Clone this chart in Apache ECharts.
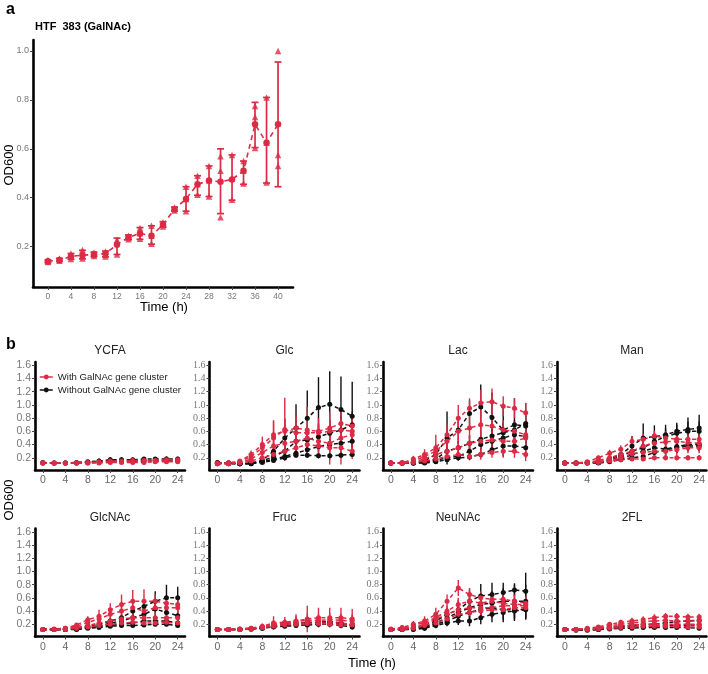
<!DOCTYPE html>
<html><head><meta charset="utf-8">
<script src="https://cdn.jsdelivr.net/npm/echarts@6/dist/echarts.min.js"></script>
<style>html,body{margin:0;padding:0;background:#fff}#c{width:708px;height:674px}</style>
</head><body><div id="c"></div>
<script>
// ---------- Panel a data ----------
const timeA = [0,2,4,6,8,10,12,14,16,18,20,22,24,26,28,30,32,34,36,38,40];
const meanA = [.140,.145,.160,.165,.168,.172,.208,.238,.254,.245,.290,.353,.395,.455,.470,.465,.475,.510,.700,.625,.700];
const hiA   = [.145,.152,.172,.185,.178,.182,.235,.248,.278,.285,.302,.362,.445,.490,.530,.600,.575,.550,.790,.810,.955];
const loA   = [.135,.140,.148,.150,.160,.158,.168,.228,.230,.210,.280,.345,.345,.410,.405,.335,.390,.455,.605,.460,.445];
const rep1A = [.145,.152,.172,.186,.176,.180,.228,.245,.276,.285,.300,.360,.445,.490,.530,.570,.575,.550,.775,.810,1.000];
const rep2A = [.140,.148,.160,.163,.168,.170,.220,.240,.255,.245,.290,.355,.395,.455,.470,.510,.480,.510,.730,.625,.575];
const rep3A = [.137,.142,.150,.152,.162,.160,.168,.230,.232,.212,.282,.348,.345,.412,.405,.320,.392,.458,.603,.462,.530];
const xTicksA = [0,4,8,12,16,20,24,28,32,36,40];
const yTicksA = [0.2,0.4,0.6,0.8,1.0];

// ---------- Panel b data ----------
const timeB = [0,2,4,6,8,10,12,14,16,18,20,22,24];
const xTicksB = [0,4,8,12,16,20,24];
const yTicksB = [0.2,0.4,0.6,0.8,1.0,1.2,1.4,1.6];
const panelNames = ['YCFA','Glc','Lac','Man','GlcNAc','Fruc','NeuNAc','2FL'];

const ycfaRed = [
 [.12,.12,.12,.12,.13,.14,.15,.15,.16,.16,.16,.17,.17],
 [.12,.12,.12,.12,.12,.13,.14,.14,.14,.15,.15,.15,.15],
 [.12,.12,.12,.12,.12,.12,.13,.13,.13,.13,.14,.14,.14]];
const ycfaRedSD = [
 [.01,.01,.01,.01,.01,.02,.03,.03,.04,.04,.04,.05,.05],
 [.01,.01,.01,.01,.01,.01,.02,.02,.03,.03,.03,.03,.04],
 [.01,.01,.01,.01,.01,.01,.02,.02,.02,.02,.02,.02,.03]];
const ycfaBlack = [
 [.13,.12,.12,.13,.14,.15,.17,.17,.17,.18,.18,.18,.18],
 [.12,.12,.12,.12,.13,.14,.15,.15,.15,.15,.16,.16,.16]];
const ycfaBlackSD = [
 [.01,.01,.01,.01,.02,.04,.04,.04,.03,.03,.03,.04,.03],
 [.01,.01,.01,.01,.01,.02,.02,.02,.02,.02,.02,.02,.02]];

const glcRed = [
 [.12,.12,.14,.22,.35,.50,.63,.58,.58,.58,.60,.62,.60],
 [.11,.12,.15,.25,.40,.55,.60,.65,.62,.60,.65,.72,.68],
 [.11,.11,.13,.18,.28,.38,.42,.45,.50,.45,.42,.50,.55],
 [.11,.11,.12,.15,.20,.25,.30,.35,.40,.38,.35,.35,.30]];
const glcRedSD = [
 [.01,.01,.03,.05,.10,.25,.48,.10,.12,.12,.15,.15,.15],
 [.01,.01,.03,.06,.12,.22,.20,.20,.35,.20,.25,.20,.18],
 [.01,.01,.02,.04,.08,.10,.12,.12,.15,.20,.25,.30,.15],
 [.01,.01,.02,.03,.05,.08,.10,.10,.12,.15,.25,.25,.12]];
const glcBlack = [
 [.13,.12,.11,.12,.16,.30,.50,.65,.80,.96,1.01,.93,.83],
 [.12,.12,.11,.12,.15,.22,.30,.45,.47,.52,.57,.62,.70],
 [.12,.12,.11,.11,.14,.18,.22,.27,.32,.37,.40,.42,.45],
 [.12,.11,.11,.11,.13,.16,.20,.24,.24,.23,.23,.24,.25]];
const glcBlackSD = [
 [.01,.01,.01,.02,.05,.12,.28,.36,.42,.46,.50,.50,.52],
 [.01,.01,.01,.02,.04,.08,.12,.15,.18,.20,.20,.20,.20],
 [.01,.01,.01,.01,.03,.04,.05,.06,.08,.08,.10,.10,.10],
 [.01,.01,.01,.01,.02,.03,.03,.04,.04,.04,.04,.04,.04]];

const lacRed = [
 [.12,.12,.18,.25,.35,.55,.80,.95,1.03,1.05,.98,.95,.88],
 [.12,.12,.15,.22,.30,.45,.60,.65,.70,.68,.62,.60,.55],
 [.12,.12,.14,.18,.25,.30,.35,.42,.45,.47,.45,.45,.50],
 [.12,.12,.13,.15,.18,.22,.25,.22,.25,.28,.30,.30,.25]];
const lacRedSD = [
 [.01,.01,.05,.08,.20,.15,.20,.15,.20,.20,.15,.15,.15],
 [.01,.01,.04,.06,.10,.12,.15,.15,.15,.15,.15,.15,.15],
 [.01,.01,.03,.05,.08,.10,.10,.12,.12,.12,.12,.12,.12],
 [.01,.01,.02,.03,.04,.05,.06,.06,.08,.08,.10,.10,.10]];
const lacBlack = [
 [.12,.12,.13,.15,.25,.50,.62,.87,.97,.81,.62,.70,.68],
 [.12,.12,.12,.14,.18,.30,.35,.42,.48,.53,.58,.62,.72],
 [.12,.12,.12,.13,.16,.20,.22,.30,.40,.45,.50,.55,.52],
 [.12,.12,.12,.12,.14,.17,.20,.21,.25,.32,.38,.38,.35]];
const lacBlackSD = [
 [.01,.01,.02,.03,.06,.40,.20,.20,.34,.38,.40,.40,.35],
 [.01,.01,.02,.03,.04,.08,.10,.12,.15,.15,.15,.15,.15],
 [.01,.01,.01,.02,.03,.05,.06,.08,.10,.12,.12,.14,.15],
 [.01,.01,.01,.01,.02,.03,.04,.04,.05,.06,.08,.10,.15]];

const manRed = [
 [.12,.12,.14,.20,.27,.33,.45,.48,.53,.50,.48,.48,.48],
 [.12,.12,.13,.16,.20,.25,.30,.38,.42,.44,.45,.43,.42],
 [.12,.12,.13,.14,.16,.20,.26,.28,.30,.30,.32,.35,.35],
 [.12,.12,.12,.13,.15,.17,.18,.18,.20,.20,.20,.20,.20]];
const manRedSD = [
 [.01,.01,.02,.03,.05,.06,.08,.08,.08,.10,.10,.10,.10],
 [.01,.01,.02,.03,.04,.05,.06,.08,.10,.10,.10,.10,.10],
 [.01,.01,.01,.02,.03,.04,.05,.06,.06,.08,.08,.08,.08],
 [.01,.01,.01,.01,.02,.02,.03,.03,.04,.04,.04,.04,.04]];
const manBlack = [
 [.12,.12,.13,.13,.18,.25,.38,.50,.52,.55,.60,.63,.65],
 [.12,.12,.13,.13,.16,.22,.30,.35,.45,.52,.57,.60,.60],
 [.12,.12,.12,.13,.15,.18,.25,.30,.35,.33,.37,.40,.40],
 [.12,.12,.12,.12,.14,.17,.20,.22,.28,.32,.35,.38,.38]];
const manBlackSD = [
 [.01,.01,.01,.02,.03,.05,.15,.22,.17,.15,.13,.18,.20],
 [.01,.01,.01,.02,.03,.04,.10,.12,.12,.12,.13,.15,.15],
 [.01,.01,.01,.01,.02,.03,.05,.08,.10,.10,.10,.10,.10],
 [.01,.01,.01,.01,.02,.03,.04,.05,.06,.06,.08,.08,.08]];

const glcnacRed = [
 [.12,.13,.14,.19,.27,.32,.42,.50,.55,.55,.55,.52,.50],
 [.12,.12,.14,.17,.23,.28,.35,.40,.45,.40,.45,.45,.45],
 [.12,.12,.13,.15,.18,.22,.25,.28,.30,.30,.30,.30,.30],
 [.12,.12,.12,.14,.16,.18,.20,.22,.23,.22,.22,.23,.22]];
const glcnacRedSD = [
 [.01,.01,.02,.03,.05,.10,.10,.15,.17,.18,.10,.10,.12],
 [.01,.01,.02,.03,.04,.08,.08,.10,.10,.10,.10,.10,.10],
 [.01,.01,.01,.02,.03,.04,.05,.06,.06,.06,.06,.06,.06],
 [.01,.01,.01,.01,.02,.03,.03,.04,.04,.04,.04,.04,.04]];
const glcnacBlack = [
 [.12,.12,.13,.15,.17,.20,.25,.30,.40,.47,.55,.60,.60],
 [.12,.12,.12,.14,.15,.17,.22,.25,.30,.35,.43,.38,.33],
 [.12,.12,.12,.13,.15,.17,.18,.20,.22,.25,.25,.25,.22],
 [.12,.12,.12,.12,.14,.15,.17,.18,.18,.19,.20,.20,.18]];
const glcnacBlackSD = [
 [.01,.01,.01,.02,.03,.04,.05,.06,.08,.08,.15,.20,.17],
 [.01,.01,.01,.02,.02,.03,.04,.05,.08,.10,.12,.10,.08],
 [.01,.01,.01,.01,.02,.02,.03,.04,.04,.05,.05,.05,.05],
 [.01,.01,.01,.01,.01,.02,.02,.02,.03,.03,.03,.03,.03]];

const frucRed = [
 [.12,.12,.13,.14,.17,.22,.23,.25,.28,.30,.30,.30,.28],
 [.12,.12,.13,.14,.16,.20,.22,.24,.26,.26,.27,.26,.25],
 [.12,.12,.12,.13,.15,.18,.20,.22,.22,.22,.22,.22,.20],
 [.12,.12,.12,.13,.15,.17,.19,.20,.21,.21,.20,.19,.19]];
const frucRedSD = [
 [.01,.01,.01,.02,.04,.10,.08,.10,.20,.15,.15,.15,.15],
 [.01,.01,.01,.02,.03,.06,.06,.08,.10,.10,.10,.10,.10],
 [.01,.01,.01,.02,.03,.04,.05,.06,.06,.06,.06,.06,.06],
 [.01,.01,.01,.01,.02,.03,.04,.04,.04,.04,.04,.04,.04]];
const frucBlack = [
 [.12,.12,.12,.13,.15,.18,.20,.22,.23,.23,.24,.22,.18],
 [.12,.12,.12,.13,.14,.17,.18,.20,.22,.22,.22,.21,.20],
 [.12,.12,.12,.13,.14,.16,.17,.18,.19,.20,.20,.18,.16]];
const frucBlackSD = [
 [.01,.01,.01,.01,.02,.04,.05,.06,.05,.05,.06,.05,.04],
 [.01,.01,.01,.01,.02,.03,.04,.05,.05,.05,.05,.05,.05],
 [.01,.01,.01,.01,.02,.02,.03,.03,.03,.04,.04,.04,.04]];

const neunacRed = [
 [.13,.15,.20,.25,.35,.55,.75,.65,.60,.58,.58,.55,.52],
 [.12,.14,.18,.23,.30,.40,.50,.55,.52,.55,.52,.50,.50],
 [.12,.13,.16,.20,.28,.35,.42,.45,.45,.45,.48,.48,.48],
 [.12,.12,.14,.18,.22,.28,.35,.38,.40,.42,.42,.45,.45]];
const neunacRedSD = [
 [.02,.03,.05,.07,.10,.10,.12,.10,.10,.10,.10,.10,.10],
 [.02,.03,.04,.06,.08,.08,.10,.10,.10,.10,.10,.10,.10],
 [.01,.02,.04,.05,.06,.06,.08,.08,.08,.08,.08,.08,.08],
 [.01,.02,.03,.04,.05,.05,.06,.06,.06,.06,.06,.06,.06]];
const neunacBlack = [
 [.12,.13,.15,.18,.25,.35,.42,.55,.63,.65,.68,.72,.70],
 [.12,.12,.14,.16,.22,.30,.38,.45,.50,.52,.55,.55,.55],
 [.12,.12,.13,.15,.20,.25,.32,.38,.42,.45,.42,.42,.43],
 [.12,.12,.12,.14,.18,.22,.25,.25,.30,.35,.38,.40,.42]];
const neunacBlackSD = [
 [.02,.03,.05,.05,.08,.10,.15,.18,.18,.18,.15,.10,.28],
 [.02,.02,.04,.05,.06,.08,.12,.15,.15,.18,.20,.25,.25],
 [.02,.02,.03,.04,.05,.06,.10,.12,.12,.15,.15,.15,.15],
 [.01,.02,.03,.04,.04,.05,.06,.08,.10,.12,.15,.15,.15]];

const fl2Red = [
 [.12,.12,.14,.16,.20,.23,.25,.27,.30,.32,.32,.31,.31],
 [.12,.12,.13,.15,.18,.20,.22,.24,.25,.26,.25,.25,.25],
 [.12,.12,.13,.14,.16,.18,.19,.20,.20,.20,.20,.20,.20],
 [.12,.12,.12,.13,.14,.15,.16,.17,.17,.17,.17,.16,.16]];
const fl2RedSD = [
 [.01,.01,.02,.02,.03,.04,.05,.05,.05,.05,.05,.05,.05],
 [.01,.01,.01,.02,.02,.03,.03,.04,.04,.04,.04,.04,.04],
 [.01,.01,.01,.02,.02,.02,.03,.03,.03,.03,.03,.03,.03],
 [.01,.01,.01,.01,.01,.02,.02,.02,.02,.02,.02,.02,.02]];
const fl2Black = [
 [.12,.12,.12,.13,.15,.17,.18,.20,.20,.22,.24,.25,.26],
 [.12,.12,.12,.12,.14,.15,.16,.17,.17,.18,.18,.19,.19],
 [.12,.11,.11,.12,.13,.14,.14,.15,.15,.15,.15,.15,.14]];
const fl2BlackSD = [
 [.01,.01,.01,.01,.02,.02,.03,.03,.04,.04,.04,.04,.04],
 [.01,.01,.01,.01,.02,.02,.02,.03,.03,.03,.03,.03,.03],
 [.01,.01,.01,.01,.01,.02,.02,.02,.02,.02,.02,.02,.02]];

const panelData = [
 [ycfaRed, ycfaRedSD, ycfaBlack, ycfaBlackSD],
 [glcRed, glcRedSD, glcBlack, glcBlackSD],
 [lacRed, lacRedSD, lacBlack, lacBlackSD],
 [manRed, manRedSD, manBlack, manBlackSD],
 [glcnacRed, glcnacRedSD, glcnacBlack, glcnacBlackSD],
 [frucRed, frucRedSD, frucBlack, frucBlackSD],
 [neunacRed, neunacRedSD, neunacBlack, neunacBlackSD],
 [fl2Red, fl2RedSD, fl2Black, fl2BlackSD]
];
const legendNames = ['With GalNAc gene cluster','Without GalNAc gene cluster'];

// ---------- Build chart ----------
const RED = '#DC2B45', BLACK = '#111111';
const SANS = 'Liberation Sans, Arial, sans-serif';
const SERIF = 'Liberation Serif, Times New Roman, serif';
const chart = echarts.init(document.getElementById('c'), null, {renderer:'canvas'});

function errRender(capW, lw){
  return function(params, api){
    const x = api.value(0), lo = api.value(1), hi = api.value(2);
    const p1 = api.coord([x, lo]), p2 = api.coord([x, hi]);
    const style = {stroke: api.visual('color'), lineWidth: lw};
    const ch = [{type:'line', shape:{x1:p1[0],y1:p1[1],x2:p2[0],y2:p2[1]}, style}];
    if (capW > 0) {
      ch.push({type:'line', shape:{x1:p1[0]-capW,y1:p1[1],x2:p1[0]+capW,y2:p1[1]}, style});
      ch.push({type:'line', shape:{x1:p2[0]-capW,y1:p2[1],x2:p2[0]+capW,y2:p2[1]}, style});
    }
    return {type:'group', children: ch};
  };
}

const grids = [], xAxes = [], yAxes = [], series = [];
function axisCommon(){
  return {
    axisLine:{show:true, onZero:false, lineStyle:{color:'#000', width:2.6}},
    splitLine:{show:false}
  };
}

// Panel a
grids.push({left:33, top:40, width:260, height:247});
xAxes.push(Object.assign(axisCommon(), {type:'value', gridIndex:0, min:-2.6, max:42.6,
  axisTick:{show:true, length:3, lineStyle:{color:'#444'}, customValues:xTicksA},
  axisLabel:{customValues:xTicksA, color:'#777', fontSize:8.5, fontFamily:SANS, margin:5}}));
yAxes.push(Object.assign(axisCommon(), {type:'value', gridIndex:0, min:0.035, max:1.045,
  axisTick:{show:true, length:3, lineStyle:{color:'#444'}, customValues:yTicksA},
  axisLabel:{customValues:yTicksA, color:'#777', fontSize:9, fontFamily:SANS, margin:4, formatter:v=>v.toFixed(1)}}));
series.push({type:'custom', xAxisIndex:0, yAxisIndex:0, itemStyle:{color:RED}, clip:true,
  renderItem: errRender(3.5, 1.7), data: timeA.map((t,i)=>[t, loA[i], hiA[i]]), z:2});
series.push({type:'line', xAxisIndex:0, yAxisIndex:0, data: timeA.map((t,i)=>[t, meanA[i]]),
  lineStyle:{color:RED, width:1.6, type:[5,4]}, itemStyle:{color:RED}, symbol:'circle', symbolSize:6.5, z:3});
[rep1A, rep2A, rep3A].forEach(rep=>{
  series.push({type:'scatter', xAxisIndex:0, yAxisIndex:0, data: timeA.map((t,i)=>[t, rep[i]]),
    symbol:'triangle', symbolSize:6.5, itemStyle:{color:RED}, z:4});
});

// Panel b
const colLeft = [35, 209.5, 383, 557];
const rowTop = [362, 528.5];
const titleG = [];
panelNames.forEach((name, k)=>{
  const r = Math.floor(k/4), c = k%4;
  const gi = grids.length;
  grids.push({left: colLeft[c], top: rowTop[r], width:150, height:108});
  xAxes.push(Object.assign(axisCommon(), {type:'value', gridIndex:gi, min:-1.4, max:25.3,
    axisTick:{show:true, length:3, lineStyle:{color:'#444'}, customValues:xTicksB},
    axisLabel:{customValues:xTicksB, color:'#666', fontSize:10.5, fontFamily:SANS, margin:5}}));
  yAxes.push(Object.assign(axisCommon(), {type:'value', gridIndex:gi, min:0.015, max:1.65,
    axisTick:{show:true, length:3, lineStyle:{color:'#444'}, customValues:yTicksB},
    axisLabel:{customValues:yTicksB, color:'#777', fontSize: c===0?10.5:10, fontFamily: c===0?SANS:SERIF, margin:4, formatter:v=>v.toFixed(1)}}));
  titleG.push({type:'text', x: colLeft[c] + 75, y: rowTop[r] - 11,
    style:{text:name, font:'12px '+SANS, fill:'#222', textAlign:'center', textVerticalAlign:'middle'}});
  const [red, redSD, black, blackSD] = panelData[k];
  const groups = [[black, blackSD, BLACK, legendNames[1]], [red, redSD, RED, legendNames[0]]];
  groups.forEach(([means, sds, col, lname])=>{
    means.forEach((m, j)=>{
      series.push({type:'custom', xAxisIndex:gi, yAxisIndex:gi, itemStyle:{color:col}, clip:true,
        renderItem: errRender(0, 1.4), data: timeB.map((t,i)=>[t, m[i]-sds[j][i], m[i]+sds[j][i]]), z:2});
      series.push({type:'line', name: lname, xAxisIndex:gi, yAxisIndex:gi, data: timeB.map((t,i)=>[t, m[i]]),
        lineStyle:{color:col, width:1.5, type:[4,3]}, itemStyle:{color:col}, symbol:'circle', symbolSize:5, z:3});
    });
  });
});

const option = {
  animation:false,
  backgroundColor:'#fff',
  grid: grids, xAxis: xAxes, yAxis: yAxes, series,
  legend: {left:39, top:372, orient:'vertical', itemGap:3, itemWidth:13, itemHeight:6, padding:0,
    data: legendNames.map((n,i)=>({name:n, itemStyle:{color: i===0?RED:BLACK}})),
    lineStyle:{type:'solid', width:1.5},
    textStyle:{fontSize:9.6, fontFamily:SANS, color:'#222'}, selectedMode:false},
  graphic: [
    {type:'text', left:6, top:2, style:{text:'a', font:'bold 16px '+SANS, fill:'#000'}},
    {type:'text', left:35, top:21, style:{text:'HTF  383 (GalNAc)', font:'bold 11px '+SANS, fill:'#000'}},
    {type:'text', x:164, y:307, style:{text:'Time (h)', font:'13px '+SANS, fill:'#000', textAlign:'center', textVerticalAlign:'middle'}},
    {type:'text', x:9, y:165, rotation:Math.PI/2, style:{text:'OD600', font:'13px '+SANS, fill:'#000', textAlign:'center', textVerticalAlign:'middle'}},
    {type:'text', left:6, top:337, style:{text:'b', font:'bold 16px '+SANS, fill:'#000'}},
    {type:'text', x:372, y:663, style:{text:'Time (h)', font:'13px '+SANS, fill:'#000', textAlign:'center', textVerticalAlign:'middle'}},
    {type:'text', x:9, y:500, rotation:Math.PI/2, style:{text:'OD600', font:'13px '+SANS, fill:'#000', textAlign:'center', textVerticalAlign:'middle'}}
  ].concat(titleG)
};
chart.setOption(option);
</script></body></html>
